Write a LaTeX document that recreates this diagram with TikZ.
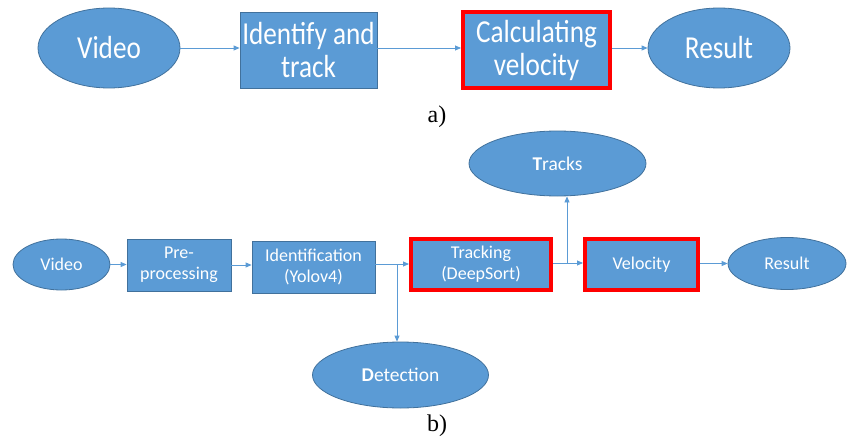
\documentclass[tikz,border=0pt]{standalone}
\usepackage{fontspec}
\setmainfont{Carlito}
\newfontfamily\narrowfont[FakeStretch=0.85]{Carlito}
\newfontfamily\capfont{Liberation Serif}
\usetikzlibrary{arrows.meta,shapes.geometric}
\definecolor{boxblue}{HTML}{5B9BD5}
\definecolor{edgeblue}{HTML}{41719C}
\definecolor{hired}{HTML}{FF0000}

\begin{document}
\begin{tikzpicture}[x=1pt,y=-1pt,
  blob/.style={ellipse, fill=boxblue, draw=edgeblue, line width=0.8pt, text=white, inner sep=0pt},
  block/.style={rectangle, fill=boxblue, draw=edgeblue, line width=0.8pt, text=white, inner sep=0pt, align=center},
  hot/.style={draw=hired, line width=4pt},
  big/.style={font=\narrowfont\fontsize{32}{33}\selectfont},
  small/.style={font=\fontsize{18}{21}\selectfont},
  store/.style={font=\fontsize{19.5}{21}\selectfont},
  link/.style={draw=boxblue, line width=0.8pt, -{Triangle[length=6pt,width=5pt]}},
  caption/.style={font=\capfont\fontsize{24}{24}\selectfont, text=black},
]
\useasboundingbox (0,0) rectangle (850,441);

% (a) simple pipeline
\node[blob,big,minimum width=142,minimum height=80] (va) at (109,48) {Video};
\node[block,big,minimum width=137,minimum height=76] (ida) at (308.5,50) {Identify and\\track};
\node[block,big,hot,minimum width=147,minimum height=76] (cva) at (536.5,50) {Calculating\\velocity};
\node[blob,big,minimum width=142,minimum height=80] (ra) at (719,48) {Result};

\draw[link] (va.east) -- (va.east -| ida.west);
\draw[link] (ida.east |- va.east) -- (va.east -| cva.west);
\draw[link] (cva.east |- ra.west) -- (ra.west);

\node[caption] (la) at (437,117) {a)};

% (b) detailed pipeline
\node[blob,small,minimum width=97,minimum height=51] (vb) at (61.5,264.5) {Video};
\node[block,small,minimum width=104,minimum height=52] (pre) at (179,265) {Pre-\\processing};
\node[block,small,minimum width=123,minimum height=52] (idb) at (313.5,267) {Identification\\(Yolov4)};
\node[block,small,hot,minimum width=140,minimum height=51] (trk) at (481,264.5) {Tracking\\(DeepSort)};
\node[block,small,hot,minimum width=113,minimum height=51] (vel) at (641.5,264.5) {Velocity};
\node[blob,store,minimum width=177,minimum height=65] (tks) at (557.5,163.5) {\textbf{T}racks};
\node[blob,store,minimum width=176,minimum height=66] (det) at (400.5,375) {\textbf{D}etection};
\node[blob,small,minimum width=118,minimum height=52] (rb) at (787,263.5) {Result};

\coordinate (j1) at (397,264);
\coordinate (j2) at (567,263);

\draw[link] (vb.east) -- (vb.east -| pre.west);
\draw[link] (pre.east) -- (pre.east -| idb.west);
\draw[link] (idb.east |- j1) -- (j1 -| trk.west);
\draw[link] (j1) -- (j1 |- det.north);
\draw[link] (trk.east |- j2) -- (j2 -| vel.west);
\draw[link] (j2) -- (j2 |- tks.south);
\draw[link] (vel.east |- rb.west) -- (rb.west);

\node[caption] (lb) at (437,426) {b)};
\end{tikzpicture}
\end{document}
